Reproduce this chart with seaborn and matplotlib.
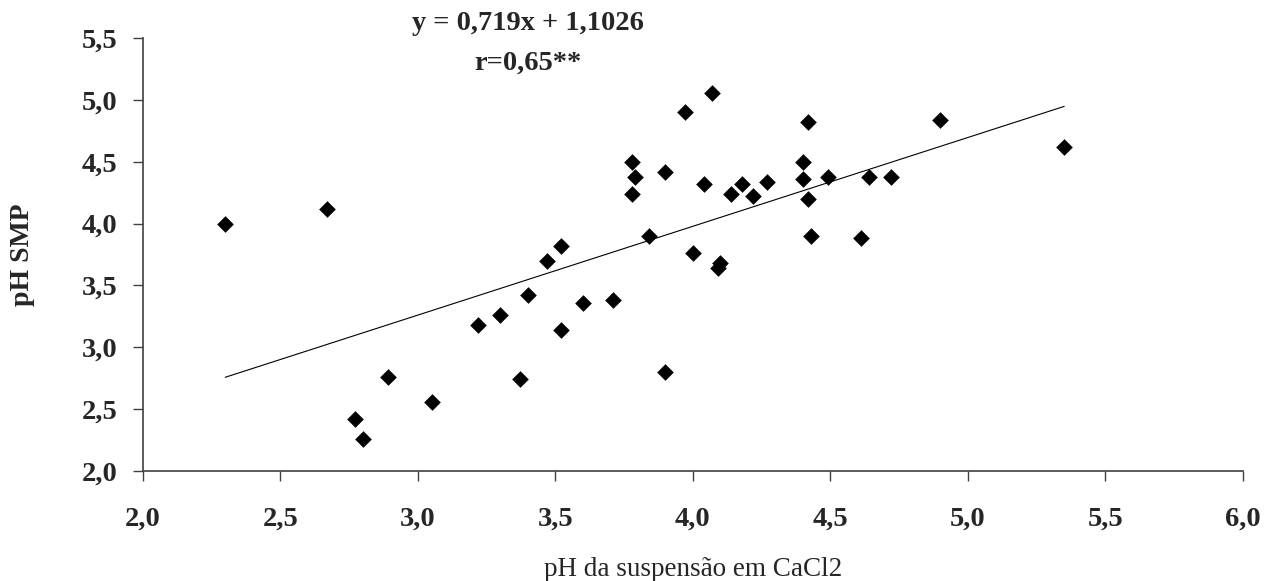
import numpy as np
import pandas as pd
import matplotlib.pyplot as plt
import seaborn as sns

# Dados (pH CaCl2 x pH SMP)
ph_cacl2 = [2.30, 2.67, 2.77, 2.80, 2.89, 3.05, 3.22, 3.30, 3.37, 3.40,
            3.47, 3.52, 3.52, 3.60, 3.71, 3.78, 3.79, 3.78, 3.84, 3.90,
            3.90, 3.97, 4.00, 4.04, 4.07, 4.09, 4.10, 4.14, 4.18, 4.22,
            4.27, 4.40, 4.40, 4.42, 4.42, 4.43, 4.49, 4.61, 4.64, 4.72,
            4.90, 5.35]
ph_smp = [4.00, 4.12, 2.42, 2.26, 2.76, 2.56, 3.18, 3.26, 2.74, 3.42,
          3.70, 3.82, 3.14, 3.36, 3.38, 4.50, 4.38, 4.24, 3.90, 4.42,
          2.80, 4.90, 3.76, 4.32, 5.06, 3.64, 3.68, 4.24, 4.32, 4.22,
          4.34, 4.50, 4.36, 4.82, 4.20, 3.90, 4.38, 3.88, 4.38, 4.38,
          4.84, 4.62]

# Equação da reta ajustada
slope = 0.719
intercept = 1.1026
r_label = "r=0,65**"
eq_label = "y = 0,719x + 1,1026"

x_ticks = [2.0, 2.5, 3.0, 3.5, 4.0, 4.5, 5.0, 5.5, 6.0]
x_tick_labels = ["2,0", "2,5", "3,0", "3,5", "4,0", "4,5", "5,0", "5,5", "6,0"]
y_ticks = [2.0, 2.5, 3.0, 3.5, 4.0, 4.5, 5.0, 5.5]
y_tick_labels = ["2,0", "2,5", "3,0", "3,5", "4,0", "4,5", "5,0", "5,5"]

df = pd.DataFrame({'cacl2': ph_cacl2, 'smp': ph_smp})
x_fit = np.array([min(ph_cacl2), max(ph_cacl2)])
df_fit = pd.DataFrame({'x': x_fit, 'y': slope * x_fit + intercept})

sns.set_theme(style="white")
plt.rcParams['font.family'] = ['Liberation Serif', 'DejaVu Serif']

fig = plt.figure(figsize=(12.64, 5.81), dpi=100)
ax = fig.add_axes([0.1129, 0.1898, 0.8705, 0.7442])

sns.lineplot(data=df_fit, x='x', y='y', color='black', linewidth=0.8, ax=ax)
sns.scatterplot(data=df, x='cacl2', y='smp', marker='D', s=72,
                color='black', edgecolor='black', linewidth=0, ax=ax, zorder=3)

ax.set_xlim(2.0, 6.0)
ax.set_ylim(2.0, 5.5)
ax.set_xticks(x_ticks)
ax.set_xticklabels(x_tick_labels, fontweight='bold', fontsize=20.5)
ax.set_yticks(y_ticks)
ax.set_yticklabels(y_tick_labels, fontweight='bold', fontsize=20.5)

for side in ['top', 'right']:
    ax.spines[side].set_visible(False)
for side in ['left', 'bottom']:
    ax.spines[side].set_color('#404040')
    ax.spines[side].set_linewidth(1.2)

ax.tick_params(axis='x', direction='out', length=7, width=1, color='#404040',
               bottom=True, pad=19)
ax.tick_params(axis='y', direction='out', length=7, width=1, color='#404040',
               left=True, pad=11)

ax.set_xlabel('pH da suspensão em CaCl2', fontsize=19.5)
ax.set_ylabel('pH SMP', fontsize=20, fontweight='bold')
ax.xaxis.set_label_coords(0.5, -0.20)
ax.yaxis.set_label_coords(-0.098, 0.5)

fig.text(0.4177, 0.9587, eq_label, ha='center', va='center',
         fontsize=20.5, fontweight='bold')
fig.text(0.4177, 0.8916, r_label, ha='center', va='center',
         fontsize=20.5, fontweight='bold')

fig.savefig('out.png', dpi=100, facecolor='white')
